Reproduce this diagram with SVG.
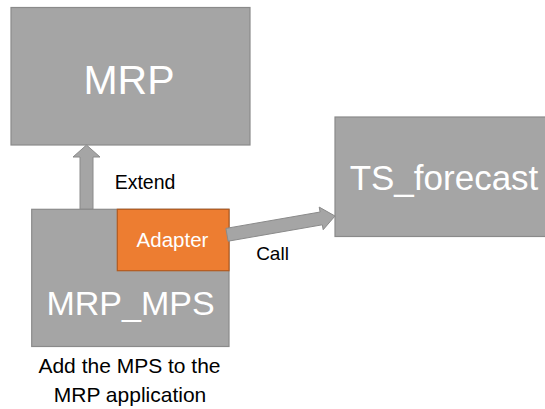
<svg xmlns="http://www.w3.org/2000/svg" width="545" height="409" viewBox="0 0 545 409">
  <style>
    .box { fill: #A5A5A5; stroke: #8A8A8A; stroke-width: 1.2; }
    .adapter { fill: #ED7D31; stroke: #B35A1E; stroke-width: 1.2; }
    .arrow { fill: #A5A5A5; stroke: #8A8A8A; stroke-width: 1; stroke-linejoin: miter; }
    .lbl { font-family: "Liberation Sans", Arial, sans-serif; text-anchor: middle; }
    .in { fill: #FFFFFF; }
    .out { fill: #000000; }
  </style>
  <rect width="545" height="409" fill="#FFFFFF"/>

  <g id="mrp">
    <rect class="box" x="11" y="7.5" width="239" height="137.5"/>
    <text class="lbl in" x="129" y="93.5" font-size="41">MRP</text>
  </g>

  <g id="ts-forecast">
    <rect class="box" x="335" y="117" width="215" height="119.5"/>
    <text class="lbl in" x="444" y="190" font-size="35">TS_forecast</text>
  </g>

  <g id="mrp-mps">
    <rect class="box" x="31.7" y="209.3" width="197.3" height="137.2"/>
    <text class="lbl in" x="130.5" y="315" font-size="34">MRP_MPS</text>
    <text class="lbl out" x="129.5" y="373" font-size="21">Add the MPS to the</text>
    <text class="lbl out" x="130" y="401.5" font-size="21">MRP application</text>
  </g>

  <g id="adapter">
    <rect class="adapter" x="117.3" y="209.3" width="111.7" height="61.4"/>
    <text class="lbl in" x="172.5" y="247" font-size="20.5">Adapter</text>
  </g>

  <g id="connectors">
    <!-- MRP_MPS extends MRP -->
    <polygon class="arrow" points="80,209 80,157 73,157 86.5,145 100,157 93,157 93,209"/>
    <text class="lbl out" x="145" y="188.5" font-size="19.5">Extend</text>
    <!-- Adapter calls TS_forecast -->
    <polygon class="arrow" points="225.9,228.4 320.1,212 319.2,207.1 335,216 323.2,229.7 322.3,224.8 228.1,241.2"/>
    <text class="lbl out" x="272.5" y="259.5" font-size="19">Call</text>
  </g>
</svg>
